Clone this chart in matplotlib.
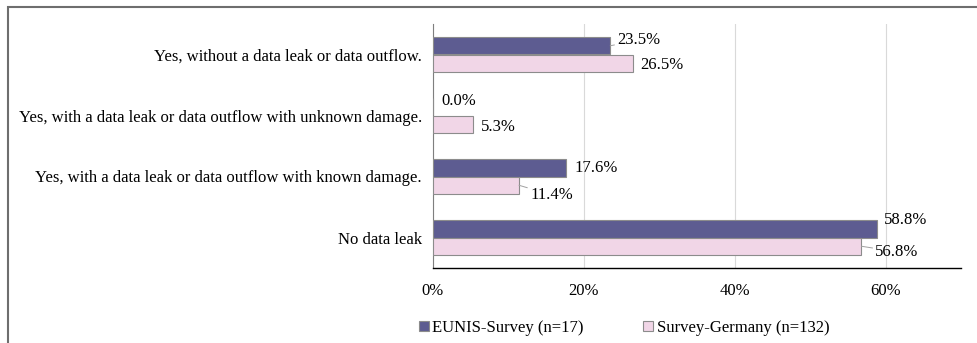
import matplotlib.pyplot as plt
import matplotlib.patches as mpatches
from matplotlib.ticker import PercentFormatter
import numpy as np

# Survey answers, top to bottom as shown
categories = [
    "Yes, without a data leak or data outflow.",
    "Yes, with a data leak or data outflow with unknown damage.",
    "Yes, with a data leak or data outflow with known damage.",
    "No data leak",
]
eunis = [23.5, 0.0, 17.6, 58.8]
germany = [26.5, 5.3, 11.4, 56.8]
series_names = ["EUNIS-Survey (n=17)", "Survey-Germany (n=132)"]

# label offsets in points (dx, dy) and whether a leader line is drawn
eunis_offsets = [(5, 4), (6, 4), (6, 0), (5, 6)]
eunis_leader = [True, False, False, False]
germany_offsets = [(5, -1), (6, -2), (8, -7), (10, -4)]
germany_leader = [False, False, True, True]

plt.rcParams['font.family'] = ['Liberation Serif', 'DejaVu Serif']
plt.rcParams['font.size'] = 12

c_eunis = '#5d5c91'
c_germany = '#f1d6e7'
edge = '#8c8c8c'

fig = plt.figure(figsize=(9.77, 3.43), dpi=100)
ax = fig.add_axes([433/977, 1-268/343, (961-433)/977, (268-24)/343])

y = np.arange(len(categories))
h = 0.287
ax.barh(y - h/2, eunis, height=h, color=c_eunis, edgecolor=edge, linewidth=0.8, zorder=3)
ax.barh(y + h/2, germany, height=h, color=c_germany, edgecolor=edge, linewidth=0.8, zorder=3)

def put_label(v, yy, off, leader):
    props = None
    if leader:
        props = dict(arrowstyle='-', color='#a0a0a0', lw=0.7, shrinkA=0, shrinkB=0)
    ax.annotate(f"{v:.1f}%", xy=(v, yy), xytext=off, textcoords='offset points',
                ha='left', va='center', arrowprops=props, zorder=4)

for i in range(len(categories)):
    put_label(eunis[i], y[i] - h/2, eunis_offsets[i], eunis_leader[i])
    put_label(germany[i], y[i] + h/2, germany_offsets[i], germany_leader[i])

ax.set_xlim(0, 70)
ax.set_ylim(len(categories) - 0.5, -0.5)
ax.set_xticks([0, 20, 40, 60])
ax.xaxis.set_major_formatter(PercentFormatter(decimals=0))
ax.set_yticks(y)
ax.set_yticklabels(categories)
ax.tick_params(axis='both', length=0)
ax.tick_params(axis='y', pad=8)
ax.tick_params(axis='x', pad=11)

ax.grid(axis='x', color='#d9d9d9', lw=0.8, zorder=0)
for s in ['top', 'right']:
    ax.spines[s].set_visible(False)
ax.spines['left'].set_color('#7f7f7f')
ax.spines['bottom'].set_color('black')
ax.spines['bottom'].set_linewidth(1.0)

handles = [mpatches.Patch(facecolor=c_eunis, edgecolor=edge, lw=0.8),
           mpatches.Patch(facecolor=c_germany, edgecolor=edge, lw=0.8)]
fig.legend(handles, series_names, loc='center', bbox_to_anchor=(624/977, 1-328/343),
           ncol=2, frameon=False, handlelength=0.6, handleheight=0.6,
           handletextpad=0.2, columnspacing=3.6)

# outer frame of the chart area
frame = mpatches.Rectangle((8/977, -0.2), 1.2, 1.2 - 7/343, transform=fig.transFigure,
                           fill=False, edgecolor='#6e6e6e', lw=1.5, clip_on=False)
fig.patches.append(frame)

fig.savefig('out.png', dpi=100)
